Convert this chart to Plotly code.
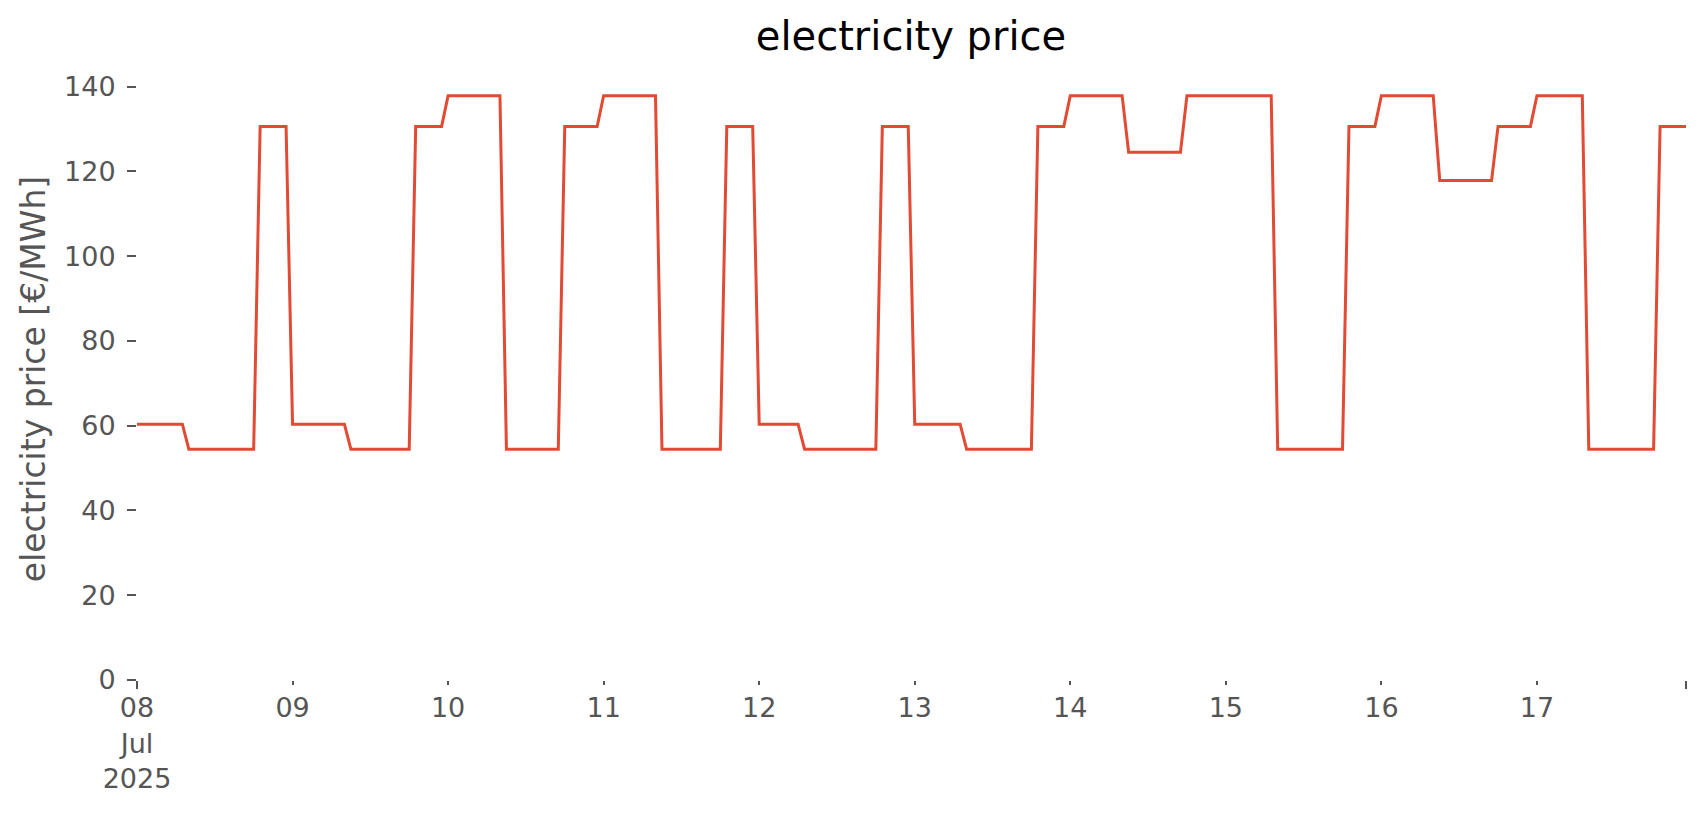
import pandas as pd
import plotly.graph_objects as go

# --- data (hourly electricity price) ---
start_time = "2025-07-08 00:00"
# run-length encoded hourly series: price level and number of consecutive hours
run_prices = [60.35, 54.45, 130.6,
              60.35, 54.45, 130.6,
              137.85, 54.45, 130.6,
              137.85, 54.45, 130.6,
              60.35, 54.45, 130.6,
              60.35, 54.45, 130.6,
              137.85, 124.5, 137.85,
              137.85, 54.45, 130.6,
              137.85, 117.85, 130.6,
              137.85, 54.45, 130.6]
run_hours = [8, 11, 5,
             9, 10, 5,
             9, 9, 6,
             9, 10, 5,
             7, 12, 5,
             8, 11, 5,
             9, 9, 6,
             8, 11, 5,
             9, 9, 6,
             8, 11, 5]
x_tick_labels = ["08<br>Jul<br>2025", "09", "10", "11", "12", "13", "14", "15", "16", "17", ""]
y_tick_values = [0, 20, 40, 60, 80, 100, 120, 140]

prices = []
for p, n in zip(run_prices, run_hours):
    prices.extend([p] * n)
times = pd.date_range(start_time, periods=len(prices), freq="h")

day_ticks = list(pd.date_range(times[0].normalize(), times[-1].normalize(), freq="D")) + [times[-1]]
major_ticks = [times[0], times[-1]]

FONT = "DejaVu Sans"
GREY = "#555555"
ymax = max(prices) + 0.05 * (max(prices) - min(prices))

fig = go.Figure()
fig.add_trace(go.Scatter(x=times, y=prices, mode="lines",
                         line=dict(color="#E24A33", width=3),
                         showlegend=False, hoverinfo="x+y"))

fig.update_layout(
    width=1706, height=815,
    margin=dict(l=137, r=20, t=78, b=135),
    paper_bgcolor="white", plot_bgcolor="white",
    font=dict(family=FONT, color=GREY, size=27),
    title=dict(text="electricity price", x=0.534, xanchor="center",
               y=1 - 36 / 815, yanchor="middle", yref="container",
               font=dict(family=FONT, size=40, color="black")),
    xaxis=dict(
        type="date", range=[times[0], times[-1]],
        tickmode="array", tickvals=day_ticks, ticktext=x_tick_labels,
        ticks="outside", ticklen=4, tickwidth=2, tickcolor=GREY,
        showgrid=False, zeroline=False, showline=False,
        tickfont=dict(family=FONT, size=27, color=GREY),
    ),
    xaxis2=dict(
        type="date", range=[times[0], times[-1]], overlaying="x",
        side="bottom", anchor="y",
        tickmode="array", tickvals=major_ticks, ticktext=["", ""],
        ticks="outside", ticklen=8, tickwidth=2, tickcolor=GREY,
        showgrid=False, zeroline=False, showline=False, showticklabels=False,
    ),
    yaxis=dict(
        range=[0, ymax], tickmode="array", tickvals=y_tick_values,
        ticks="outside", ticklen=9, tickwidth=2, tickcolor=GREY,
        ticklabelstandoff=6,
        showgrid=False, zeroline=False, showline=False,
        tickfont=dict(family=FONT, size=27, color=GREY),
        title=dict(text="electricity price [€/MWh]", standoff=8,
                   font=dict(family=FONT, size=33, color=GREY)),
    ),
)
# invisible helper trace to activate the overlay axis carrying the long end ticks
fig.add_trace(go.Scatter(x=[times[0]], y=[None], xaxis="x2", showlegend=False,
                         hoverinfo="skip"))

fig.write_html("out.html", config={"displayModeBar": False},
               post_script="document.body.style.margin='0';")
